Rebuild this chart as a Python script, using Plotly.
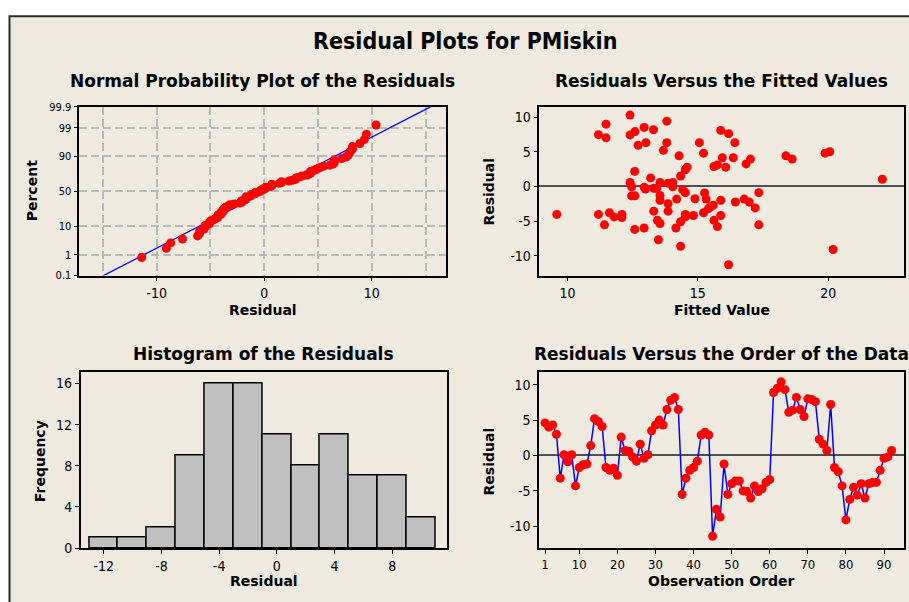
import plotly.graph_objects as go
from statistics import NormalDist, mean, stdev

W, H = 909, 602

# ---------------- data ----------------
residuals = [
    4.6, 4.0, 4.3, 3.0, -3.2, 0.1, -0.9, 0.1, -4.3, -1.7,
    -1.3, -1.2, 1.4, 5.2, 4.8, 4.1, -1.7, -2.1, -1.8, -2.8,
    2.6, 0.7, 0.6, -0.2, -0.8, 1.6, -0.4, 0.1, 3.5, 4.3,
    5.0, 4.3, 6.5, 7.8, 8.2, 6.5, -5.5, -3.2, -2.1, -1.7,
    -0.8, 2.9, 3.3, 2.9, -11.4, -7.6, -8.7, -1.2, -5.5, -4.0,
    -3.6, -3.6, -5.0, -5.1, -6.0, -4.3, -5.1, -4.7, -3.8, -3.4,
    8.9, 9.5, 10.4, 9.3, 6.1, 6.4, 8.2, 6.5, 5.5, 8.0,
    7.9, 7.6, 2.3, 1.6, 0.7, 7.2, -1.7, -2.3, -4.3, -9.1,
    -6.2, -4.5, -5.6, -4.0, -6.0, -4.0, -3.8, -3.8, -2.1, -0.4,
    -0.2, 0.7,
]
observation_order = list(range(1, len(residuals) + 1))

fitted_values = [
    9.59, 11.19, 11.19, 11.48, 11.48, 11.42, 11.61, 11.79, 12.09, 12.09,
    12.40, 12.40, 12.59, 12.40, 12.46, 12.46, 12.59, 12.58, 12.58, 12.71,
    12.94, 13.01, 12.94, 12.99, 12.94, 13.19, 13.30, 13.31, 13.31, 13.42,
    13.45, 13.49, 13.55, 13.55, 13.55, 13.55, 13.68, 13.81, 13.81, 13.86,
    13.86, 13.86, 14.04, 14.04, 14.19, 14.16, 14.28, 14.34, 14.34, 14.34,
    14.42, 14.52, 14.52, 14.59, 14.52, 14.52, 14.83, 14.89, 15.06, 15.22,
    15.26, 15.32, 15.22, 15.40, 15.47, 15.59, 15.62, 15.75, 15.62, 15.75,
    15.88, 15.88, 15.88, 15.94, 16.07, 16.18, 16.18, 16.36, 16.42, 16.44,
    16.78, 16.85, 17.02, 16.97, 17.20, 17.34, 17.34, 18.38, 18.62, 19.88,
    20.06, 20.19, 22.08,
]
fitted_residuals = [
    -4.04, 7.46, -4.04, 8.97, 7.0, -5.54, -3.8, -4.4, -4.04, -4.5,
    10.28, 7.42, 7.9, 0.56, -0.05, -1.36, -1.36, 2.16, -6.2, 5.92,
    8.5, 6.3, -0.14, -0.38, -6.0, 1.22, 8.17, -0.28, -3.57, -0.28,
    -4.9, -7.7, -5.35, -1.31, -2.0, 0.56, 5.2, 9.4, 6.3, 0.47,
    -2.5, -3.57, 0.56, -0.05, -1.83, -6.0, 4.4, 1.5, -8.64, -5.1,
    -0.5, -0.9, 2.4, 2.77, -4.04, -4.4, -4.2, -1.78, 6.3, 4.79,
    -0.94, -1.83, -3.8, -3.24, -3.0, -2.72, 2.86, 3.1, -4.88, -5.8,
    8.07, -2.0, -4.2, 4.13, 2.77, 7.6, -11.3, 4.13, 6.3, -2.25,
    -1.83, 3.24, 3.94, -2.25, -3.1, -0.9, -5.54, 4.4, 3.94, 4.79,
    5.0, -9.1, 1.03,
]

hist_centers = [-12, -10, -8, -6, -4, -2, 0, 2, 4, 6, 8, 10]
hist_counts = [1, 1, 2, 9, 16, 16, 11, 8, 11, 7, 7, 3]

pct_ticks = [0.1, 1, 10, 50, 90, 99, 99.9]
pct_labels = ["0.1", "1", "10", "50", "90", "99", "99.9"]
npp_x_ticks = [-10, 0, 10]
npp_x_labels = ["-10", "0", "10"]
fit_x_ticks = [10, 15, 20]
resid_ticks = [-10, -5, 0, 5, 10]
resid_labels = ["-10", "-5", "0", "5", "10"]
order_ticks = [1, 10, 20, 30, 40, 50, 60, 70, 80, 90]
hist_ticks = [-12, -8, -4, 0, 4, 8]
hist_labels = ["-12", "-8", "-4", "0", "4", "8"]
freq_ticks = [0, 4, 8, 12, 16]

# ---------------- normal probability computation ----------------
nd = NormalDist()
n = len(residuals)
sorted_res = sorted(residuals)
prob_z = [nd.inv_cdf((i - 0.3) / (n + 0.4)) for i in range(1, n + 1)]
mu, sd = mean(residuals), stdev(residuals)
z_lo, z_hi = nd.inv_cdf(0.001), nd.inv_cdf(0.999)
line_z = [z_lo, z_hi]
line_x = [mu + sd * z for z in line_z]
pct_z = [nd.inv_cdf(p / 100.0) for p in pct_ticks]


def px(x):
    return x / W


def py(y):
    return 1 - y / H


BEIGE = "#EEEAE0"
RED = "#FF0000"
BLUE = "#0000FF"
FONT = "DejaVu Sans Condensed, DejaVu Sans, sans-serif"
TFONT = "DejaVu Sans, sans-serif"

fig = go.Figure()

fig.add_trace(go.Scatter(x=line_x, y=line_z, mode="lines",
                         line=dict(color=BLUE, width=1.3),
                         xaxis="x", yaxis="y", hoverinfo="skip"))
fig.add_trace(go.Scatter(x=sorted_res, y=prob_z, mode="markers",
                         marker=dict(color=RED, size=9),
                         xaxis="x", yaxis="y"))
fig.add_trace(go.Scatter(x=fitted_values, y=fitted_residuals, mode="markers",
                         marker=dict(color=RED, size=9),
                         xaxis="x2", yaxis="y2"))
fig.add_trace(go.Bar(x=hist_centers, y=hist_counts, width=2,
                     marker=dict(color="#C0C0C0", line=dict(color="black", width=1.5)),
                     xaxis="x3", yaxis="y3"))
fig.add_trace(go.Scatter(x=observation_order, y=residuals, mode="lines+markers",
                         line=dict(color=BLUE, width=1.5),
                         marker=dict(color=RED, size=9),
                         xaxis="x4", yaxis="y4"))

frame = dict(showline=True, mirror=True, linecolor="black", linewidth=1.5,
             ticks="outside", ticklen=4, tickcolor="black", tickwidth=1,
             zeroline=False, showgrid=False)
tick14 = dict(family=FONT, size=14, color="black")
tick13 = dict(family=FONT, size=13, color="black")
tick11 = dict(family=FONT, size=11, color="black")
GRIDC = "#B8B8B8"
GDASH = "8px,4px"
GRID = dict(showgrid=True, gridcolor=GRIDC, gridwidth=1.5, griddash=GDASH)


def ax(**kw):
    d = dict(frame)
    d.update(kw)
    return d


fig.update_layout(
    width=W, height=H,
    margin=dict(l=0, r=0, t=0, b=0),
    paper_bgcolor="white", plot_bgcolor="white",
    showlegend=False, bargap=0,
    xaxis=ax(anchor="y", domain=[px(79.3), px(446)], range=[-17.2, 16.9],
             tickvals=npp_x_ticks, ticktext=npp_x_labels, tickfont=tick14, **GRID,
             minor=dict(tickvals=[-15, -5, 5, 15], showgrid=True,
                        gridcolor=GRIDC, gridwidth=1.5, griddash=GDASH,
                        ticks="")),
    yaxis=ax(anchor="x", domain=[py(276), py(103.3)], range=[z_lo, z_hi],
             tickvals=pct_z, ticktext=pct_labels, tickfont=tick11, **GRID),
    xaxis2=ax(anchor="y2", domain=[px(539.3), px(904.3)], range=[8.92, 22.92],
              tickvals=fit_x_ticks, tickfont=tick14),
    yaxis2=ax(anchor="x2", domain=[py(276), py(103.3)], range=[-12.86, 11.46],
              tickvals=resid_ticks, ticktext=resid_labels, tickfont=tick14,
              zeroline=True, zerolinecolor="#505050", zerolinewidth=1.5),
    xaxis3=ax(anchor="y3", domain=[px(80.7), px(446.7)], range=[-13.6, 11.78],
              tickvals=hist_ticks, ticktext=hist_labels, tickfont=tick14),
    yaxis3=ax(anchor="x3", domain=[py(555), py(374.3)], range=[0, 17.15],
              tickvals=freq_ticks, tickfont=tick14),
    xaxis4=ax(anchor="y4", domain=[px(539), px(904.3)], range=[-0.58, 95.33],
              tickvals=order_ticks, tickfont=tick13),
    yaxis4=ax(anchor="x4", domain=[py(555), py(374.3)], range=[-13.08, 11.85],
              tickvals=resid_ticks, ticktext=resid_labels, tickfont=tick14,
              zeroline=True, zerolinecolor="#505050", zerolinewidth=1.5),
)

fig.add_shape(type="rect", xref="paper", yref="paper",
              x0=px(9.5), x1=1.02, y0=-0.02, y1=py(10.5),
              fillcolor=BEIGE, line=dict(color="#2A2A2A", width=2), layer="below")

ann = []
ann.append(dict(text="<b>Residual Plots for PMiskin</b>", x=px(465), y=py(36),
                font=dict(family=FONT, size=23, color="black")))
for t, cx, cy in [
    ("Normal Probability Plot of the Residuals", (79.3 + 446) / 2, 77),
    ("Residuals Versus the Fitted Values", (539.3 + 904.3) / 2, 77),
    ("Histogram of the Residuals", (80.7 + 446.7) / 2, 356),
    ("Residuals Versus the Order of the Data", (539 + 904.3) / 2, 356),
]:
    ann.append(dict(text="<b>%s</b>" % t, x=px(cx), y=py(cy),
                    font=dict(family=TFONT, size=17, color="black")))
for t, cx, cy in [
    ("Residual", (79.3 + 446) / 2, 311),
    ("Fitted Value", (539.3 + 904.3) / 2, 311),
    ("Residual", (80.7 + 446.7) / 2, 589),
    ("Observation Order", (539 + 904.3) / 2, 589),
]:
    ann.append(dict(text="<b>%s</b>" % t, x=px(cx), y=py(cy),
                    font=dict(family=TFONT, size=14, color="black")))
for t, cx, cy in [
    ("Percent", 32, 189.7),
    ("Residual", 489.3, 189.7),
    ("Frequency", 40, 466),
    ("Residual", 489.3, 466),
]:
    ann.append(dict(text="<b>%s</b>" % t, x=px(cx), y=py(cy), textangle=-90,
                    font=dict(family=TFONT, size=14, color="black")))
for a in ann:
    a.update(xref="paper", yref="paper", xanchor="center", yanchor="middle",
             showarrow=False)
fig.update_layout(annotations=ann)

page_fix = (
    "var s=document.createElement('style');"
    "s.textContent='html,body{margin:0!important;padding:0!important;"
    "width:909px;height:602px;overflow:hidden!important;}';"
    "document.head.appendChild(s);"
)
fig.write_html("out.html", config={"displayModeBar": False}, post_script=page_fix)
